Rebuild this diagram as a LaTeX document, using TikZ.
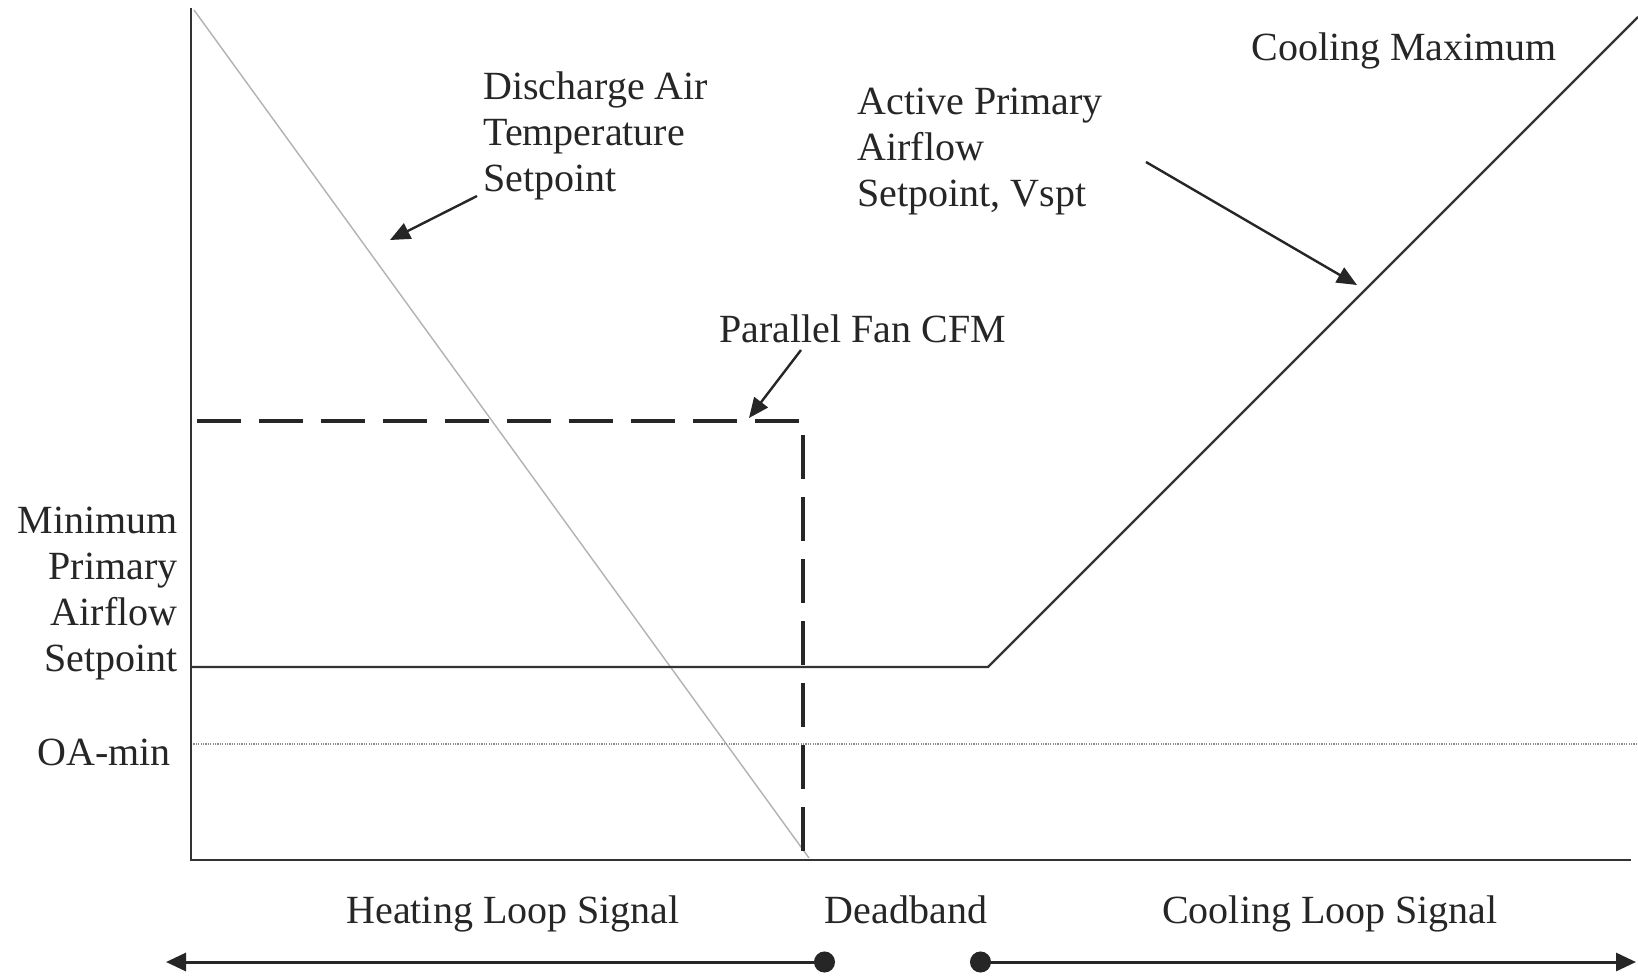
\documentclass[tikz,border=0pt]{standalone}
\usepackage{fontspec}
\setmainfont{Liberation Serif}
\usetikzlibrary{arrows.meta}
\begin{document}
\begin{tikzpicture}[x=0.5pt,y=-0.5pt,
  lbl/.style={inner sep=0pt,text=black!85,font=\fontsize{20}{23}\selectfont},
  axisline/.style={line width=1.4pt,draw=black!80},
  curve/.style={line width=1.2pt,draw=black!80},
  datline/.style={line width=0.7pt,draw=black!30},
  fanline/.style={line width=2pt,draw=black!85,dash pattern=on 22pt off 9pt},
  oaline/.style={line width=0.8pt,draw=black!45,dash pattern=on 0.6pt off 0.6pt},
  callout/.style={line width=1.2pt,draw=black!85,-{Triangle[length=10pt,width=8.5pt]}},
  rangearrow/.style={line width=1.5pt,draw=black!85},
]
\useasboundingbox[fill=white] (0,0) rectangle (1638,976);
% coordinates
\coordinate (ytop) at (191,8);
\coordinate (origin) at (191,860);
\coordinate (xend) at (1631,860);
\coordinate (datA) at (194,10);
\coordinate (datB) at (809,858);
\coordinate (fanA) at (197,421);
\coordinate (fanC) at (803,421);
\coordinate (fanB) at (803,860);
\coordinate (minA) at (191,667);
\coordinate (minB) at (988,667);
\coordinate (minC) at (1638,17);
\coordinate (oaA) at (191,744);
\coordinate (oaB) at (1638,744);
\coordinate (hR) at (835,962);
\coordinate (hL) at (166,962);
\coordinate (cL) at (970,962);
\coordinate (cR) at (1636,962);
\coordinate (datTip) at (390,240);
\coordinate (fanTip) at (749,418);
\coordinate (apTip) at (1357,285);
% lines
\draw[datline] (datA) -- (datB);
\draw[oaline] (oaA) -- (oaB);
\draw[curve] (minA) -- (minB) -- (minC);
\draw[fanline] (fanA) -- (fanC) -- (fanB);
\draw[axisline] (ytop) -- (origin) -- (xend);
% labels
\node[lbl,anchor=north west,align=left] (dat) at (483,71) {Discharge Air\\Temperature\\Setpoint};
\node[lbl,anchor=base west] (fan) at (719,342) {Parallel Fan CFM};
\node[lbl,anchor=north west,align=left] (ap) at (857,88) {Active Primary\\Airflow\\Setpoint, Vspt};
\node[lbl,anchor=base west] (cm) at (1251,60) {Cooling Maximum};
\node[lbl,anchor=north east,align=right] (mp) at (178,507) {Minimum\\Primary\\Airflow\\Setpoint};
\node[lbl,anchor=base east] (oa) at (171,765) {OA-min};
\node[lbl,anchor=base] (heat) at (513,923) {Heating Loop Signal};
\node[lbl,anchor=base] (dead) at (906,923) {Deadband};
\node[lbl,anchor=base] (cool) at (1330,923) {Cooling Loop Signal};
% callouts
\coordinate (datS) at (477,196);
\coordinate (fanS) at (801,350);
\coordinate (apS) at (1146,162);
\draw[callout] (datS) -- (datTip);
\draw[callout] (fanS) -- (fanTip);
\draw[callout] (apS) -- (apTip);
% range arrows
\draw[rangearrow,{Circle[length=10.5pt,width=10.5pt]}-{Triangle[length=10pt,width=9pt]}] (hR) -- (hL);
\draw[rangearrow,{Circle[length=10.5pt,width=10.5pt]}-{Triangle[length=10pt,width=9pt]}] (cL) -- (cR);
\end{tikzpicture}
\end{document}
